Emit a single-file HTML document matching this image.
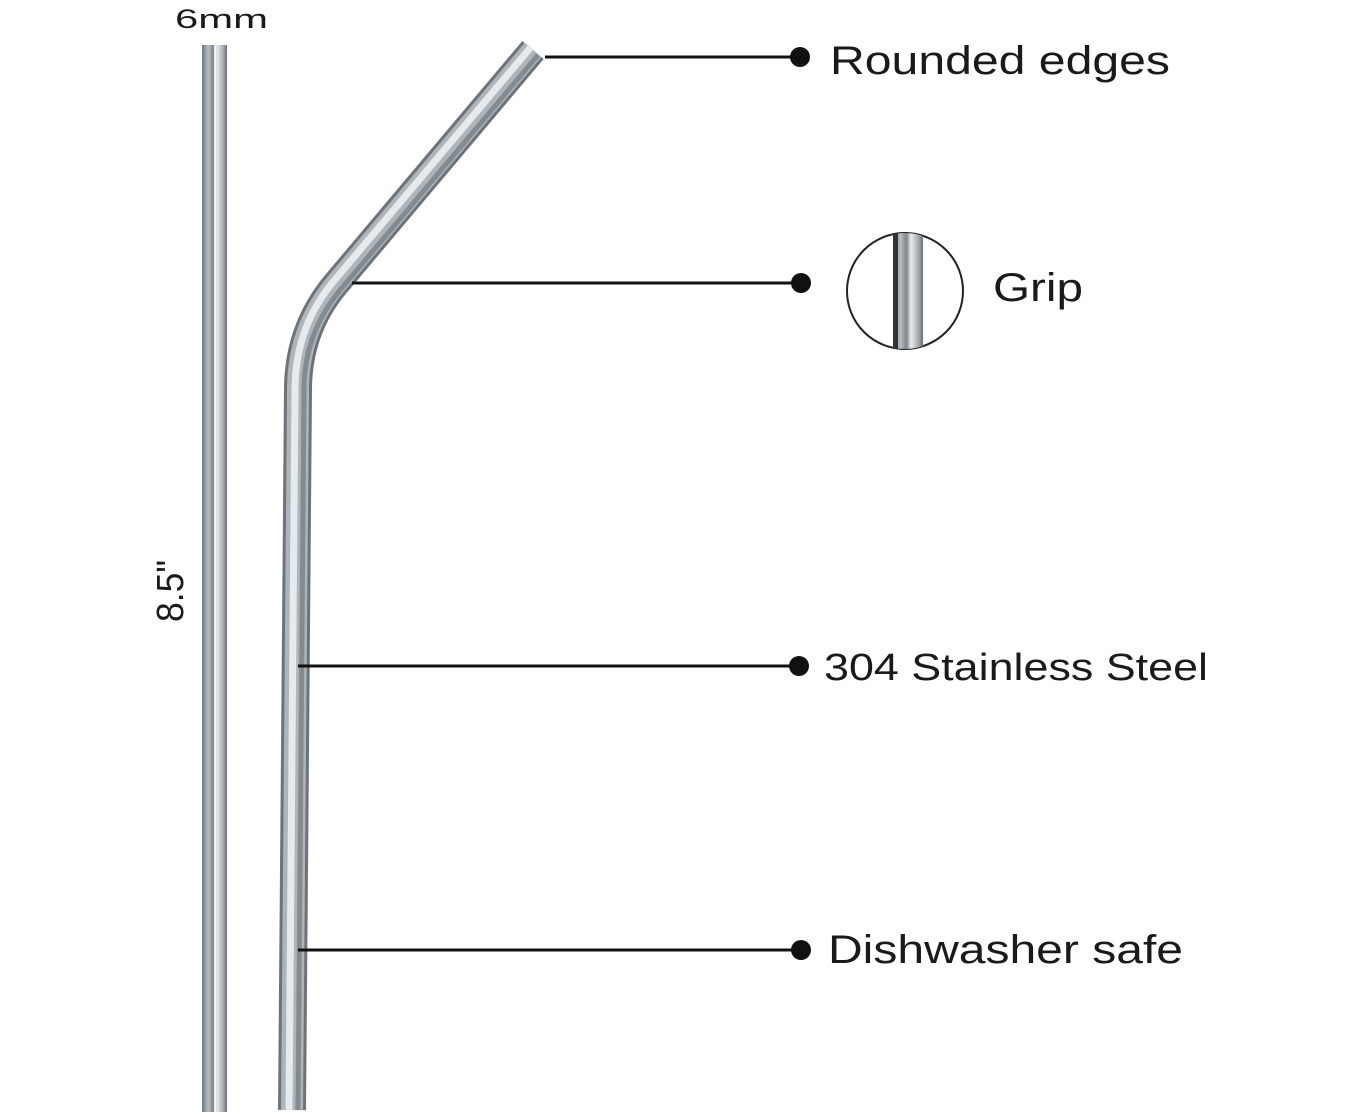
<!DOCTYPE html>
<html><head><meta charset="utf-8"><style>
html,body{margin:0;padding:0;background:#fff;}
svg{display:block}
text{font-family:"Liberation Sans",sans-serif;fill:#1a1a1a}
</style></head><body>
<svg width="1366" height="1117" viewBox="0 0 1366 1117" xmlns="http://www.w3.org/2000/svg">
<defs>
<linearGradient id="sg" x1="0" x2="1" y1="0" y2="0">
<stop offset="0" stop-color="#6f767c"/><stop offset="0.25" stop-color="#b9c0c5"/><stop offset="0.45" stop-color="#7d858b"/><stop offset="0.6" stop-color="#e8ecee"/><stop offset="0.85" stop-color="#a3aab0"/><stop offset="1" stop-color="#6a7076"/>
</linearGradient>
<clipPath id="cc"><circle cx="905" cy="291" r="58"/></clipPath>
</defs>
<text x="175" y="28" font-size="27" textLength="93" lengthAdjust="spacingAndGlyphs">6mm</text>
<rect x="202" y="45" width="25" height="1067" fill="url(#sg)"/>
<line x1="215" y1="45" x2="215" y2="1112" stroke="#fff" stroke-width="2" opacity="0.8"/>
<text transform="translate(183,622) rotate(-90)" font-size="38" textLength="62" lengthAdjust="spacingAndGlyphs">8.5"</text>
<path d="M533,50 L335,285 Q298,330 298,390 L292,1110" fill="none" stroke="#6d7379" stroke-width="28"/>
<path d="M533,50 L335,285 Q298,330 298,390 L292,1110" fill="none" stroke="#aeb5ba" stroke-width="22"/>
<path d="M531,47 L333,282 Q295,328 295,390 L289,1110" fill="none" stroke="#e6eaec" stroke-width="7"/>
<path d="M538,55 L341,289 Q304,333 304,390 L298,1110" fill="none" stroke="#838a90" stroke-width="5"/>
<g stroke="#111" stroke-width="3">
<line x1="545" y1="57" x2="800" y2="57"/>
<line x1="352" y1="283" x2="800" y2="283"/>
<line x1="298" y1="666" x2="798" y2="666"/>
<line x1="298" y1="950" x2="800" y2="950"/>
</g>
<g fill="#111">
<circle cx="800" cy="57" r="10"/><circle cx="801" cy="283" r="10"/>
<circle cx="799" cy="666" r="10"/><circle cx="801" cy="950" r="10"/>
</g>
<circle cx="905" cy="291" r="58" fill="#fff" stroke="#222" stroke-width="2"/>
<g clip-path="url(#cc)"><rect x="893" y="230" width="30" height="125" fill="url(#sg)"/><rect x="893" y="230" width="5" height="125" fill="#333"/></g>
<text x="830" y="74" font-size="40" textLength="340" lengthAdjust="spacingAndGlyphs">Rounded edges</text>
<text x="993" y="301" font-size="40" textLength="90" lengthAdjust="spacingAndGlyphs">Grip</text>
<text x="824" y="680" font-size="38" textLength="384" lengthAdjust="spacingAndGlyphs">304 Stainless Steel</text>
<text x="828" y="963" font-size="40" textLength="355" lengthAdjust="spacingAndGlyphs">Dishwasher safe</text>
</svg>
</body></html>
